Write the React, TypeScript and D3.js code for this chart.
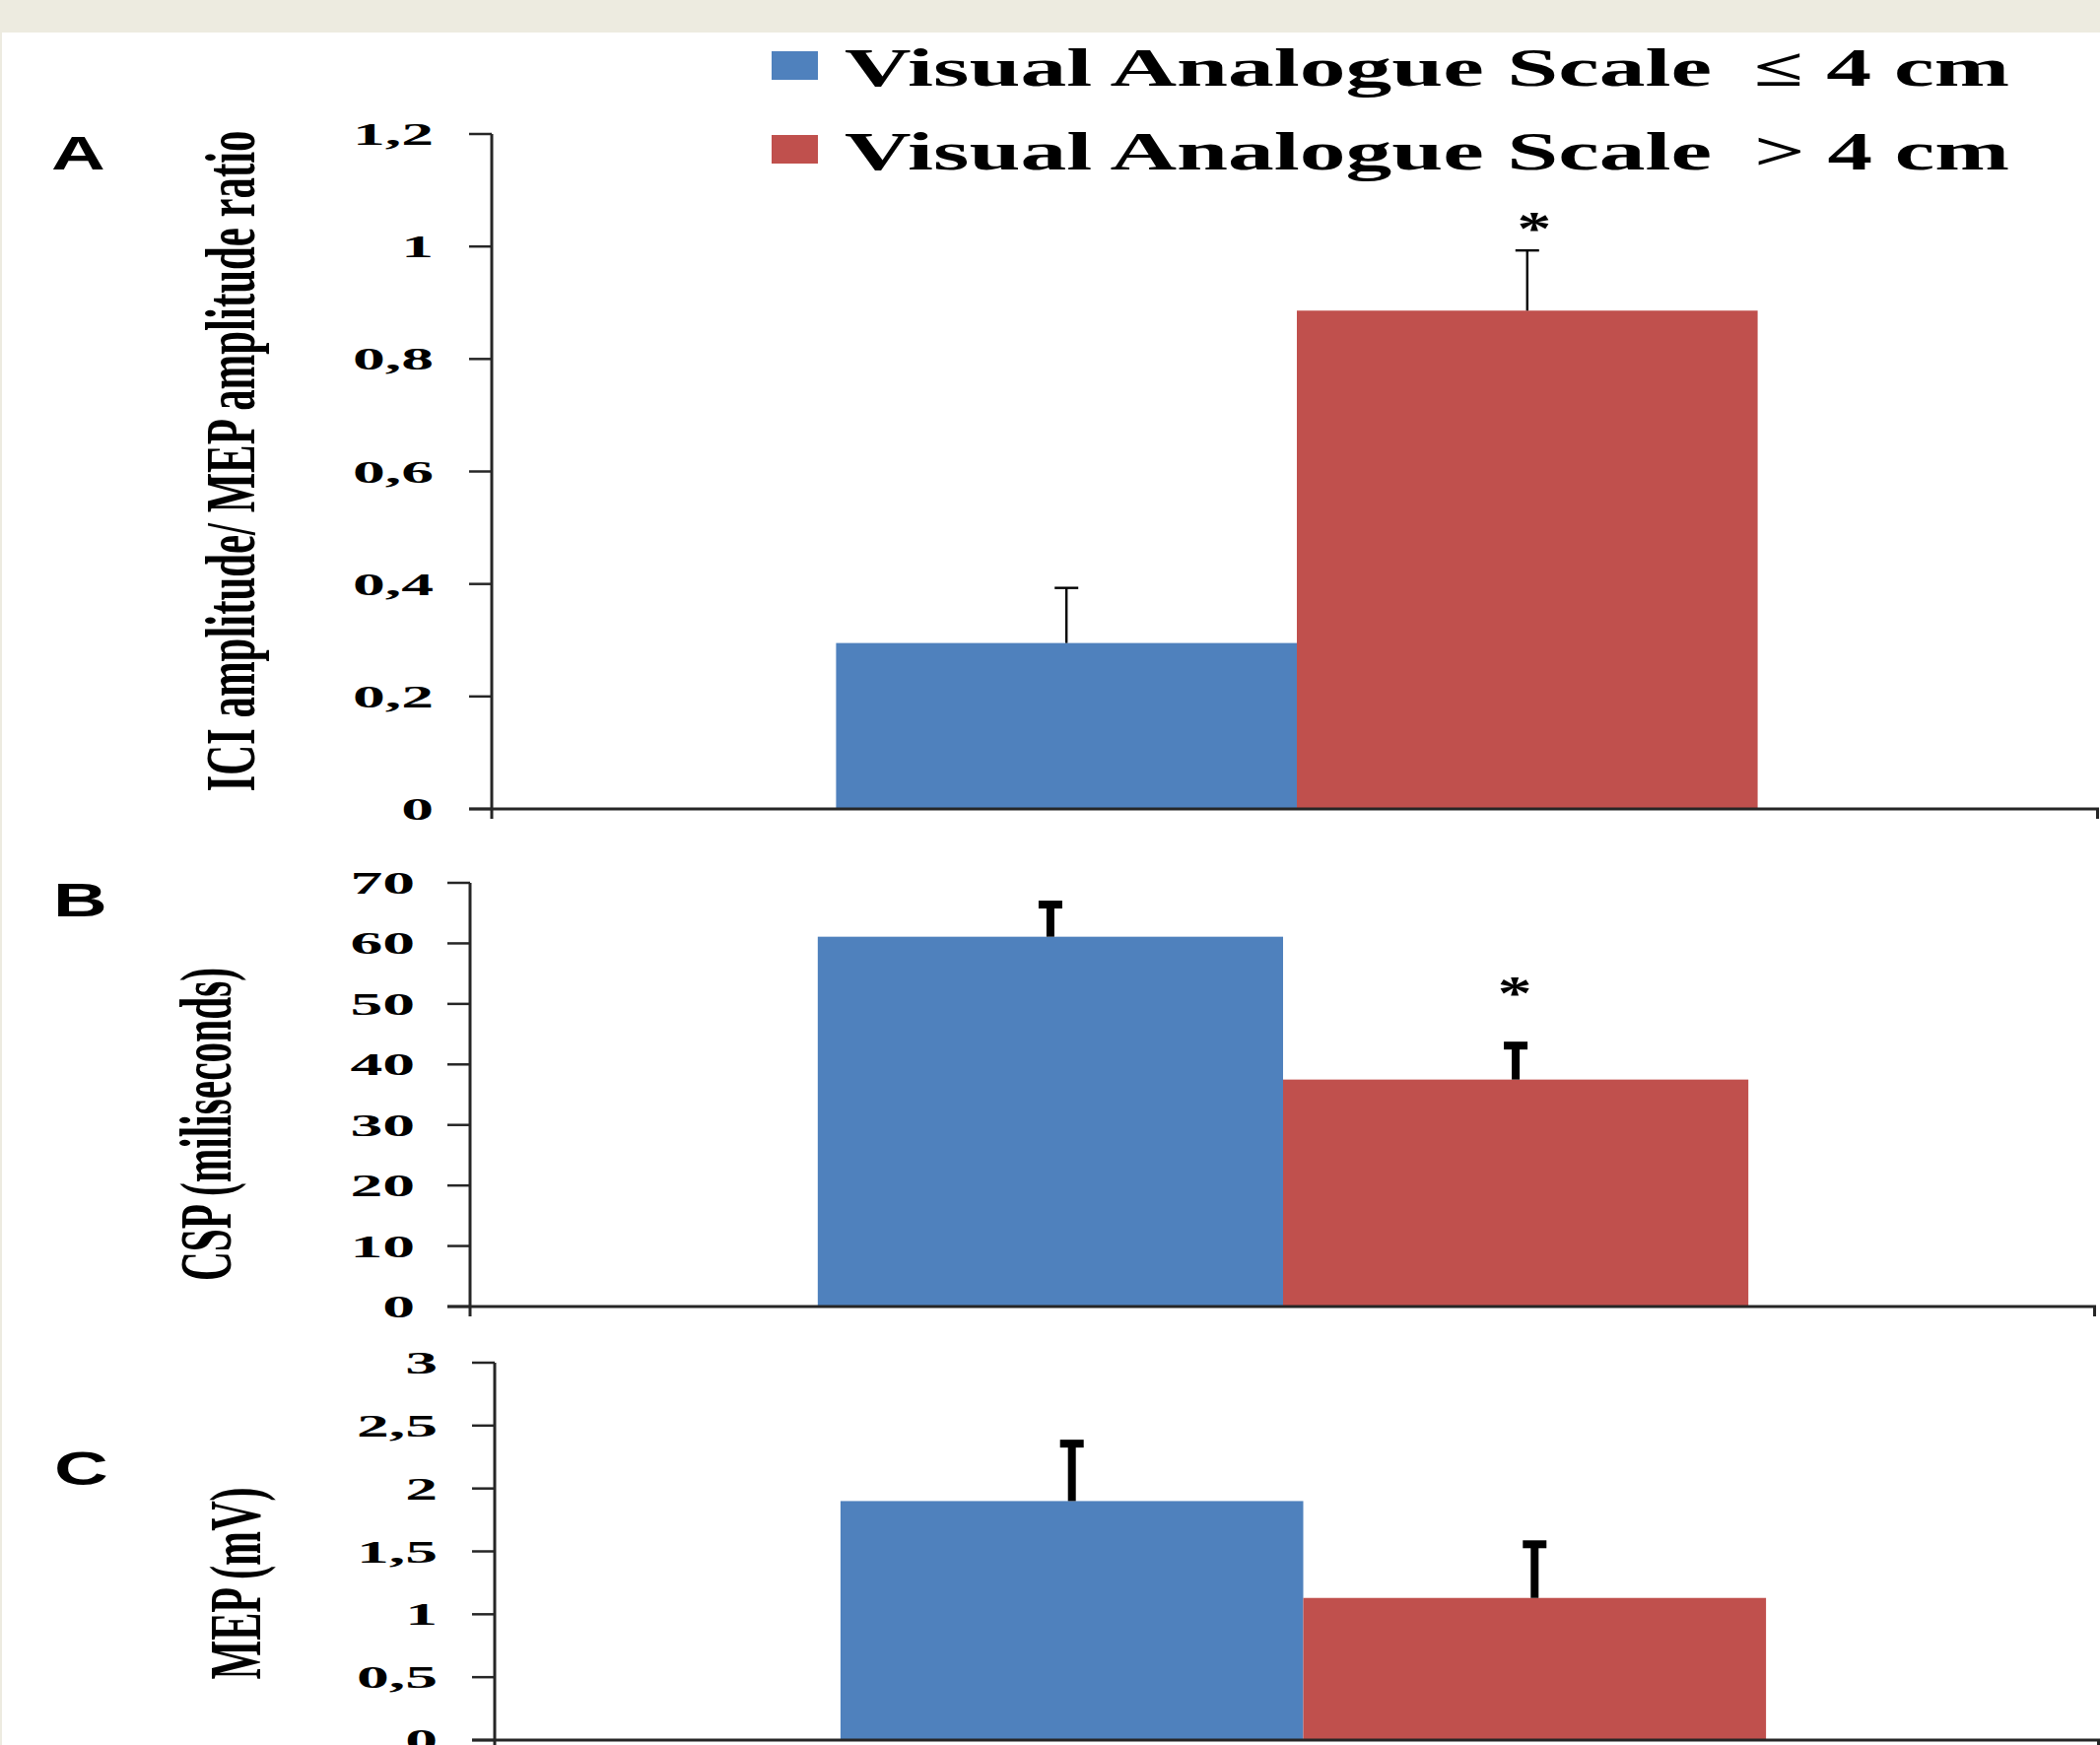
import React from "react";
import * as d3 from "d3";

// ---------- data ----------
const categories = ["group"];
const seriesNames = ["Visual Analogue Scale ≤ 4 cm", "Visual Analogue Scale > 4 cm"];
const legendMain = ["Visual Analogue Scale", "Visual Analogue Scale"];
const legendSuffix = ["≤ 4 cm", "> 4 cm"];
const seriesColors = ["#4F81BD", "#C0504D"];

const iciMeans = [0.295, 0.886];
const iciErrors = [0.098, 0.107];
const iciTicks = [0, 0.2, 0.4, 0.6, 0.8, 1, 1.2];

const cspMeans = [61.1, 37.5];
const cspErrors = [5.8, 6.1];
const cspTicks = [0, 10, 20, 30, 40, 50, 60, 70];

const mepMeans = [1.9, 1.13];
const mepErrors = [0.48, 0.45];
const mepTicks = [0, 0.5, 1, 1.5, 2, 2.5, 3];

const significant = [[false, true], [false, true], [false, false]];

const fmt = d3
  .formatLocale({ decimal: ",", thousands: ".", grouping: [3], currency: ["", ""] })
  .format("~g");

const SERIF = "'Liberation Serif', 'Times New Roman', serif";
const SANS = "'Liberation Sans', Arial, sans-serif";

type PanelCfg = {
  letter: string;
  letterX: number;
  letterY: number;
  title: string;
  titleX: number;
  titleY: number;
  titleLen: number;
  titleSize: number;
  axisX: number;
  bandRight: number;
  lineRight: number;
  y0: number;
  yTop: number;
  labelRight: number;
  means: number[];
  errors: number[];
  ticks: number[];
  thick: boolean;
  stars: boolean[];
  starDx: number;
};

const panels: PanelCfg[] = [
  {
    letter: "A", letterX: 52, letterY: 172,
    title: "ICI amplitude/ MEP amplitude ratio", titleX: 258, titleY: 468, titleLen: 671, titleSize: 72,
    axisX: 499, bandRight: 2133, lineRight: 2130, y0: 821, yTop: 136, labelRight: 440,
    means: iciMeans, errors: iciErrors, ticks: iciTicks, thick: false, stars: significant[0], starDx: 7,
  },
  {
    letter: "B", letterX: 54, letterY: 930,
    title: "CSP (miliseconds)", titleX: 234, titleY: 1141, titleLen: 318, titleSize: 73,
    axisX: 477, bandRight: 2127, lineRight: 2127, y0: 1326, yTop: 896, labelRight: 421,
    means: cspMeans, errors: cspErrors, ticks: cspTicks, thick: true, stars: significant[1], starDx: -1,
  },
  {
    letter: "C", letterX: 55, letterY: 1507,
    title: "MEP (mV)", titleX: 264, titleY: 1607, titleLen: 195, titleSize: 75,
    axisX: 502, bandRight: 2143, lineRight: 2131, y0: 1766, yTop: 1383, labelRight: 444,
    means: mepMeans, errors: mepErrors, ticks: mepTicks, thick: true, stars: significant[2], starDx: 0,
  },
];

function Panel({ p }: { p: PanelCfg }) {
  const yMax = p.ticks[p.ticks.length - 1];
  const y = d3.scaleLinear().domain([0, yMax]).range([p.y0, p.yTop]);
  const x0 = d3.scaleBand<string>().domain(categories).range([p.axisX, p.bandRight]).padding(0.272);
  const x1 = d3.scaleBand<number>().domain(d3.range(seriesNames.length)).range([0, x0.bandwidth()]).padding(0);
  const axisColor = "#262626";
  return (
    <g>
      {/* panel letter */}
      <text
        transform={`translate(${p.letterX},${p.letterY}) scale(1.58,1)`}
        fontFamily={SANS}
        fontWeight="bold"
        fontSize={48}
        fill="#000"
      >
        {p.letter}
      </text>
      {/* axis title */}
      <text
        transform={`translate(${p.titleX},${p.titleY}) rotate(-90)`}
        textAnchor="middle"
        fontFamily={SERIF}
        fontWeight="bold"
        fontSize={p.titleSize}
        textLength={p.titleLen}
        lengthAdjust="spacingAndGlyphs"
        fill="#000"
      >
        {p.title}
      </text>
      {/* bars */}
      {categories.map((c) =>
        p.means.map((m, i) => (
          <rect
            key={`${c}-${i}`}
            x={(x0(c) as number) + (x1(i) as number)}
            y={y(m)}
            width={x1.bandwidth()}
            height={p.y0 - y(m)}
            fill={seriesColors[i]}
          />
        ))
      )}
      {/* error bars */}
      {categories.map((c) =>
        p.means.map((m, i) => {
          const cx = (x0(c) as number) + (x1(i) as number) + x1.bandwidth() / 2;
          const top = y(m + p.errors[i]);
          return p.thick ? (
            <g key={`e-${i}`}>
              <line x1={cx} x2={cx} y1={y(m)} y2={top} stroke="#000" strokeWidth={8} />
              <rect x={cx - 12} y={top - 1} width={24} height={8} fill="#000" />
            </g>
          ) : (
            <g key={`e-${i}`}>
              <line x1={cx} x2={cx} y1={y(m)} y2={top} stroke="#000" strokeWidth={2.4} />
              <line x1={cx - 12} x2={cx + 12} y1={top} y2={top} stroke="#000" strokeWidth={2.4} />
            </g>
          );
        })
      )}
      {/* significance stars */}
      {categories.map((c) =>
        p.means.map((m, i) => {
          if (!p.stars[i]) return null;
          const cx = (x0(c) as number) + (x1(i) as number) + x1.bandwidth() / 2;
          const top = y(m + p.errors[i]);
          const by = p.thick ? top - 34 : top - 6;
          return (
            <text
              key={`s-${i}`}
              transform={`translate(${cx + p.starDx},${by}) scale(1.45,1)`}
              textAnchor="middle"
              fontFamily={SERIF}
              fontWeight="bold"
              fontSize={48}
              fill="#000"
            >
              *
            </text>
          );
        })
      )}
      {/* y axis */}
      <line x1={p.axisX} x2={p.axisX} y1={p.yTop} y2={p.y0 + 10} stroke={axisColor} strokeWidth={3} />
      {p.ticks.map((t) => (
        <g key={t}>
          <line x1={p.axisX - 23} x2={p.axisX} y1={y(t)} y2={y(t)} stroke={axisColor} strokeWidth={2.5} />
          <text
            transform={`translate(${p.labelRight},${y(t) + 11}) scale(2.05,1)`}
            textAnchor="end"
            fontFamily={SERIF}
            fontWeight="bold"
            fontSize={32}
            fill="#000"
          >
            {fmt(t)}
          </text>
        </g>
      ))}
      {/* x axis */}
      <line x1={p.axisX - 23} x2={p.lineRight} y1={p.y0} y2={p.y0} stroke={axisColor} strokeWidth={3} />
      <line x1={p.lineRight - 1.5} x2={p.lineRight - 1.5} y1={p.y0} y2={p.y0 + 10} stroke={axisColor} strokeWidth={3} />
    </g>
  );
}

export default function App() {
  const W = 2131;
  const H = 1771;
  return (
    <svg
      width={W}
      height={H}
      viewBox={`0 0 ${W} ${H}`}
      style={{ position: "absolute", left: 0, top: 0, display: "block", background: "#fff" }}
    >
      <rect x={0} y={0} width={W} height={H} fill="#fff" />
      <rect x={0} y={0} width={W} height={33} fill="#EDEBE0" />
      <rect x={0} y={0} width={2} height={H} fill="#EDEBE0" />
      {/* legend */}
      {seriesNames.map((s, i) => (
        <g key={s}>
          <rect x={783} y={52 + i * 85} width={47} height={29} fill={seriesColors[i]} />
          <text
            x={857}
            y={87 + i * 85}
            fontFamily={SERIF}
            fontWeight="bold"
            fontSize={54}
            textLength={880}
            lengthAdjust="spacingAndGlyphs"
            fill="#000"
          >
            {legendMain[i]}
          </text>
          <text
            x={1780}
            y={87 + i * 85}
            fontFamily={SERIF}
            fontWeight="bold"
            fontSize={54}
            textLength={259}
            lengthAdjust="spacingAndGlyphs"
            fill="#000"
          >
            {legendSuffix[i]}
          </text>
        </g>
      ))}
      {panels.map((p) => (
        <Panel key={p.letter} p={p} />
      ))}
    </svg>
  );
}
